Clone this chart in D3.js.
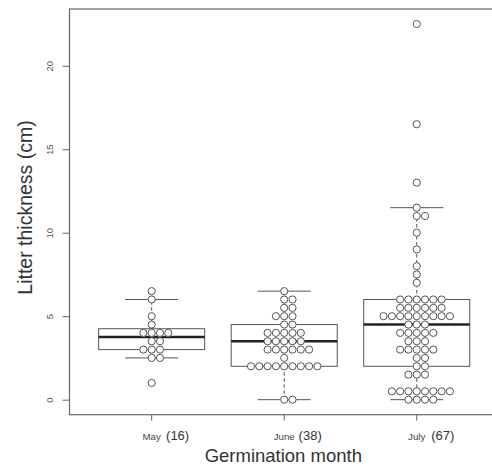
<!DOCTYPE html>
<html>
<head>
<meta charset="utf-8">
<script src="https://cdn.jsdelivr.net/npm/d3@7"></script>
<style>
  body { margin: 0; background: #fff; }
  svg { font-family: "Liberation Sans", Arial, sans-serif; }
</style>
</head>
<body>
<div class="grafico"></div>
<script>
/* Datos */
const months = ['May', 'June', 'July'];
const counts = [16, 38, 67];

const mayValues = [1, 2.5, 2.5, 3, 3, 3, 3.5, 3.5, 4, 4, 4, 4, 4.5, 5, 6, 6.5];
const juneValues = [0, 0, 2, 2, 2, 2, 2, 2, 2, 2, 2, 2.5, 3, 3, 3, 3, 3, 3,
  3.5, 3.5, 3.5, 3.5, 3.5, 4, 4, 4, 4, 4, 4.5, 4.5, 5, 5, 5, 5.5, 5.5, 6, 6, 6.5];
const julyValues = [0, 0, 0, 0, 0.5, 0.5, 0.5, 0.5, 0.5, 0.5, 0.5, 0.5,
  1.5, 1.5, 1.5, 2, 2, 2.5, 2.5, 3, 3, 3, 3, 3, 3.5, 3.5, 3.5,
  4, 4, 4, 4, 4, 4.5, 4.5, 4.5, 5, 5, 5, 5, 5, 5, 5, 5, 5,
  5.5, 5.5, 5.5, 5.5, 5.5, 5.5, 6, 6, 6, 6, 6, 6,
  7, 7.5, 8, 9, 10, 11, 11, 11.5, 13, 16.5, 22.5];

/* Estadísticos de las cajas */
const whiskerLow = [2.5, 0, 0];
const lowerHinge = [3, 2, 2];
const medians = [3.75, 3.5, 4.5];
const upperHinge = [4.25, 4.5, 6];
const whiskerHigh = [6, 6.5, 11.5];

const yTicks = [0, 5, 10, 15, 20];

const groups = [mayValues, juneValues, julyValues];

const w = 492;
const h = 466;

const x = d3.scaleLinear().domain([0.38, 3.62]).range([69.5, 498.9]);
const y = d3.scaleLinear().domain([-0.9, 23.4]).range([414.7, 9]);

const step = x(2) - x(1);
const boxW = step * 0.8;
const capW = boxW * 0.5;
const dotGap = 8.3;
const dotR = 3.6;

const lineColor = '#555';

const svg = d3.select('.grafico')
  .append('svg')
  .attr('width', w)
  .attr('height', h);

/*Cajas y bigotes*/
const boxes = svg.selectAll('g.box')
  .data(months)
  .join('g')
  .attr('class', 'box')
  .attr('transform', (d, i) => `translate(${x(i + 1)},0)`);

boxes.append('line') // bigote inferior
  .attr('y1', (d, i) => y(lowerHinge[i]))
  .attr('y2', (d, i) => y(whiskerLow[i]))
  .attr('stroke', lineColor)
  .attr('stroke-dasharray', '3.5,2.5');

boxes.append('line') // bigote superior
  .attr('y1', (d, i) => y(upperHinge[i]))
  .attr('y2', (d, i) => y(whiskerHigh[i]))
  .attr('stroke', lineColor)
  .attr('stroke-dasharray', '3.5,2.5');

boxes.append('line')
  .attr('x1', -capW / 2).attr('x2', capW / 2)
  .attr('y1', (d, i) => y(whiskerLow[i]))
  .attr('y2', (d, i) => y(whiskerLow[i]))
  .attr('stroke', lineColor);

boxes.append('line')
  .attr('x1', -capW / 2).attr('x2', capW / 2)
  .attr('y1', (d, i) => y(whiskerHigh[i]))
  .attr('y2', (d, i) => y(whiskerHigh[i]))
  .attr('stroke', lineColor);

boxes.append('rect')
  .attr('x', -boxW / 2)
  .attr('width', boxW)
  .attr('y', (d, i) => y(upperHinge[i]))
  .attr('height', (d, i) => y(lowerHinge[i]) - y(upperHinge[i]))
  .attr('fill', 'none')
  .attr('stroke', lineColor);

boxes.append('line')
  .attr('x1', -boxW / 2).attr('x2', boxW / 2)
  .attr('y1', (d, i) => y(medians[i]))
  .attr('y2', (d, i) => y(medians[i]))
  .attr('stroke', '#222')
  .attr('stroke-width', 2.4);

/*Puntos tipo beeswarm: cada fila se reparte 0, +1, -1, +2, ...*/
const dots = [];
groups.forEach((vals, g) => {
  const seen = new Map();
  vals.forEach(v => {
    const k = seen.get(v) || 0;
    seen.set(v, k + 1);
    const off = k === 0 ? 0 : (k % 2 === 1 ? (k + 1) / 2 : -k / 2);
    dots.push({ g, v, off });
  });
});

svg.append('g')
  .selectAll('circle')
  .data(dots)
  .join('circle')
  .attr('cx', d => x(d.g + 1) + d.off * dotGap)
  .attr('cy', d => y(d.v))
  .attr('r', dotR)
  .attr('fill', '#fff')
  .attr('stroke', '#555')
  .attr('stroke-width', 1);

/*Marco*/
svg.append('rect')
  .attr('x', x.range()[0])
  .attr('y', y.range()[1])
  .attr('width', x.range()[1] - x.range()[0])
  .attr('height', y.range()[0] - y.range()[1])
  .attr('fill', 'none')
  .attr('stroke', '#666')
  .attr('stroke-width', 1.2);

/*Eje Y*/
const yAxis = svg.append('g')
  .attr('transform', `translate(${x.range()[0]},0)`)
  .call(d3.axisLeft(y).tickValues(yTicks).tickSize(7).tickFormat(d3.format('d')));
yAxis.select('.domain').remove();
yAxis.selectAll('line').attr('stroke', '#666');
yAxis.selectAll('text')
  .attr('transform', 'rotate(-90)')
  .attr('x', 0)
  .attr('y', -16.5)
  .attr('dy', 0)
  .attr('text-anchor', 'middle')
  .attr('fill', '#555')
  .style('font-size', '9.5px');

/*Eje X*/
const xAxis = svg.append('g')
  .attr('transform', `translate(0,${y.range()[0]})`);

xAxis.selectAll('line')
  .data(months)
  .join('line')
  .attr('x1', (d, i) => x(i + 1))
  .attr('x2', (d, i) => x(i + 1))
  .attr('y1', 0).attr('y2', 6)
  .attr('stroke', '#666');

xAxis.selectAll('text.month')
  .data(months)
  .join('text')
  .attr('class', 'month')
  .attr('x', (d, i) => x(i + 1))
  .attr('y', 25.5)
  .attr('text-anchor', 'middle')
  .attr('fill', '#444')
  .style('font-size', '9.7px')
  .text(d => d);

xAxis.selectAll('text.count')
  .data(counts)
  .join('text')
  .attr('class', 'count')
  .attr('x', (d, i) => x(i + 1) + 14.4)
  .attr('y', 25.8)
  .attr('fill', '#333')
  .style('font-size', '13px')
  .text(d => `(${d})`);

/*Títulos*/
svg.append('text')
  .attr('x', 283.3)
  .attr('y', 461.5)
  .attr('text-anchor', 'middle')
  .attr('fill', '#333')
  .style('font-size', '18.5px')
  .text('Germination month');

svg.append('text')
  .attr('transform', `translate(31.5,207.5) rotate(-90)`)
  .attr('text-anchor', 'middle')
  .attr('fill', '#333')
  .style('font-size', '19.5px')
  .text('Litter thickness (cm)');
</script>
</body>
</html>
